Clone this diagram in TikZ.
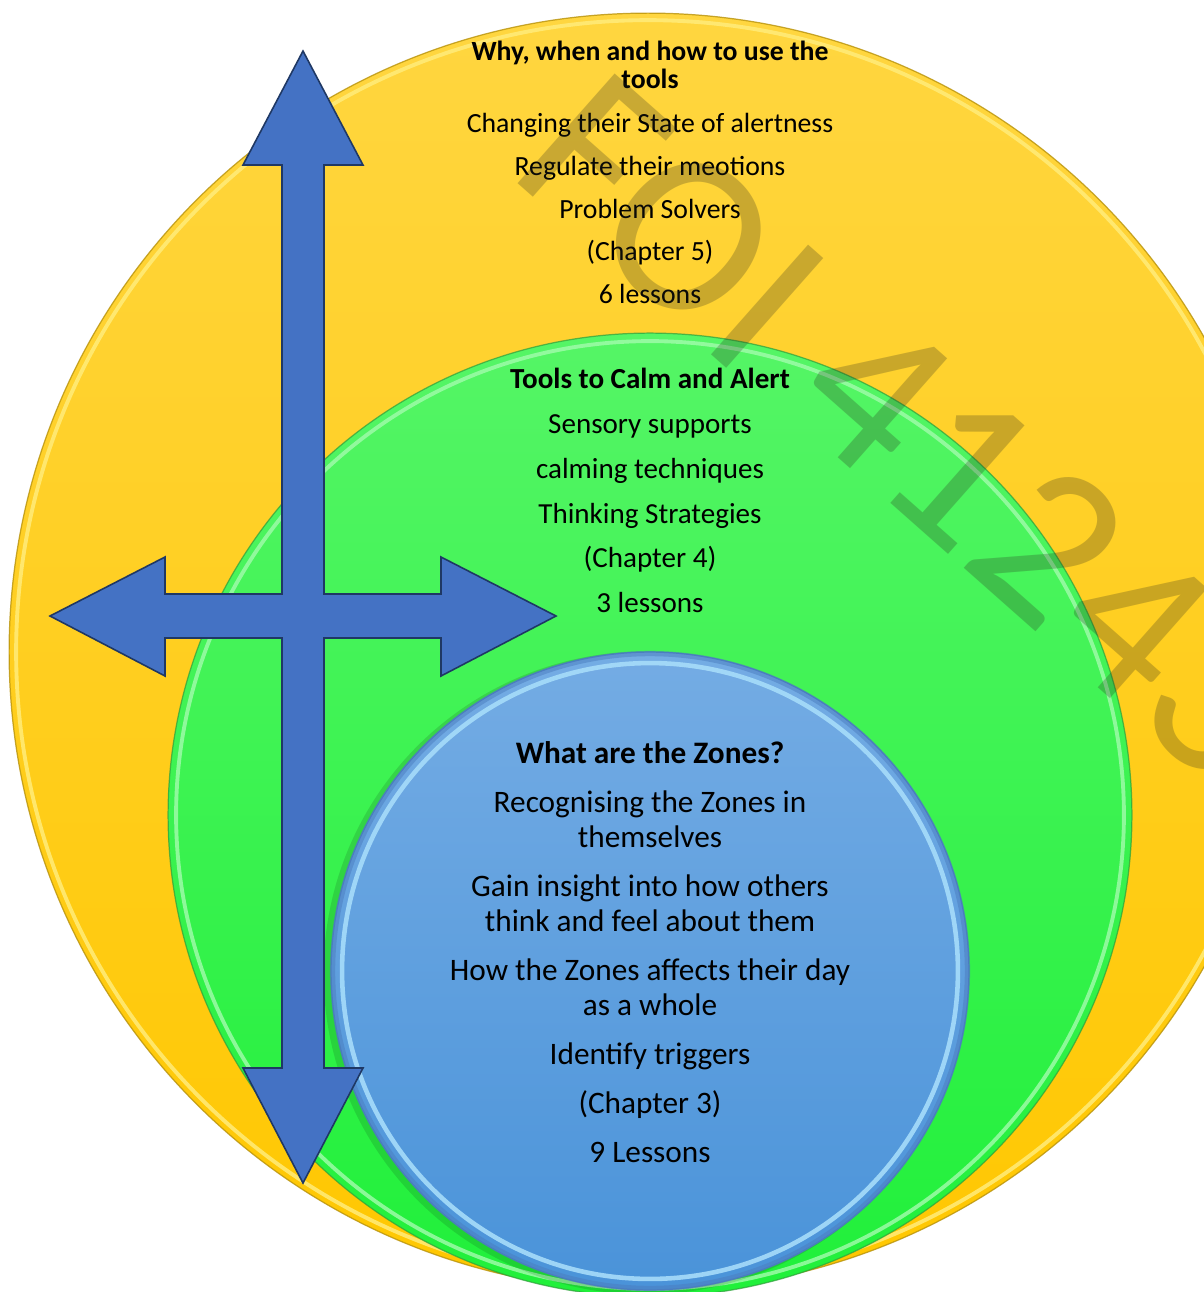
\documentclass[tikz,border=0pt]{standalone}
\usepackage{fontspec}
\setmainfont{Carlito}
\definecolor{yTop}{HTML}{FFD640}
\definecolor{yBot}{HTML}{FFC700}
\definecolor{yEdge}{HTML}{B8920A}
\definecolor{yRim}{HTML}{FFEC7A}
\definecolor{gTop}{HTML}{55F566}
\definecolor{gBot}{HTML}{20F03A}
\definecolor{gEdge}{HTML}{2E9E3A}
\definecolor{gRim}{HTML}{9DFBA8}
\definecolor{bTop}{HTML}{74ACE4}
\definecolor{bBot}{HTML}{4A93D9}
\definecolor{bEdge}{HTML}{4B7DBF}
\definecolor{bRim}{HTML}{A6DCFA}
\definecolor{arrowBlue}{HTML}{4472C4}
\definecolor{arrowEdge}{HTML}{1F3864}
\definecolor{wmColor}{HTML}{28281E}
\begin{document}
\begin{tikzpicture}[x=0.02cm,y=-0.02cm,
  ttop/.style={font=\fontsize{15.8}{16}\selectfont, anchor=base, inner sep=0pt, text=black},
  tgreen/.style={font=\fontsize{16.55}{17}\selectfont, anchor=base, inner sep=0pt, text=black},
  tblue/.style={font=\fontsize{17.8}{18}\selectfont, anchor=base, inner sep=0pt, text=black},
  wm/.style={font=\fontsize{130}{130}\selectfont, rotate=-41.5, text=wmColor, text opacity=0.25, inner sep=0pt, anchor=center},
  arrowshape/.style={fill=arrowBlue, draw=arrowEdge, line width=0.9pt, line join=miter}
]
\useasboundingbox (0,0) rectangle (1204,1292);
\clip (0,0) rectangle (1204,1292);

% yellow circle
\shade[top color=yTop, bottom color=yBot] (648,652) circle[radius=12.78cm];
\draw[yRim, line width=2.2pt, opacity=0.85] (648,652) circle[radius=12.64cm];
\draw[yEdge, line width=0.7pt, opacity=0.8] (648,652) circle[radius=12.78cm];

% green circle
\shade[top color=gTop, bottom color=gBot] (650,815) circle[radius=9.64cm];
\draw[gRim, line width=2.2pt, opacity=0.85] (650,815) circle[radius=9.48cm];
\draw[gEdge, line width=0.7pt, opacity=0.7] (650,815) circle[radius=9.64cm];

% blue circle
\fill[black, opacity=0.12] (645,973) circle[radius=6.43cm];
\shade[top color=bTop, bottom color=bBot] (650,971) circle[radius=6.38cm];
\draw[bEdge, line width=3pt, opacity=0.5] (650,971) circle[radius=6.35cm];
\draw[bRim, line width=2.6pt, opacity=0.9] (650,971) circle[radius=6.16cm];
\draw[bEdge, line width=0.7pt] (650,971) circle[radius=6.38cm];

% top (yellow) texts
\node[ttop, font=\fontsize{15.8}{16}\selectfont\bfseries] (y1) at (650,60) {Why, when and how to use the};
\node[ttop, font=\fontsize{15.8}{16}\selectfont\bfseries] (y2) at (650,88) {tools};
\node[ttop] (y3) at (650,132) {Changing their State of alertness};
\node[ttop] (y4) at (650,175) {Regulate their meotions};
\node[ttop] (y5) at (650,218) {Problem Solvers};
\node[ttop] (y6) at (650,260) {(Chapter 5)};
\node[ttop] (y7) at (650,303) {6 lessons};

% green texts
\node[tgreen, font=\fontsize{16.55}{17}\selectfont\bfseries] (g1) at (650,388) {Tools to Calm and Alert};
\node[tgreen] (g2) at (650,433) {Sensory supports};
\node[tgreen] (g3) at (650,478) {calming techniques};
\node[tgreen] (g4) at (650,523) {Thinking Strategies};
\node[tgreen] (g5) at (650,567) {(Chapter 4)};
\node[tgreen] (g6) at (650,612) {3 lessons};

% blue texts
\node[tblue, font=\fontsize{17.8}{18}\selectfont\bfseries] (b1) at (650,763) {What are the Zones?};
\node[tblue] (b2) at (650,812) {Recognising the Zones in};
\node[tblue] (b3) at (650,847) {themselves};
\node[tblue] (b4) at (650,896) {Gain insight into how others};
\node[tblue] (b5) at (650,931) {think and feel about them};
\node[tblue] (b6) at (650,980) {How the Zones affects their day};
\node[tblue] (b7) at (650,1015) {as a whole};
\node[tblue] (b8) at (650,1064) {Identify triggers};
\node[tblue] (b9) at (650,1113) {(Chapter 3)};
\node[tblue] (b10) at (650,1162) {9 Lessons};

% quad arrow
\draw[arrowshape] (303,51) -- (363,165) -- (324,165) -- (324,594) -- (441,594) -- (441,557)
  -- (556,616) -- (441,676) -- (441,638) -- (324,638) -- (324,1068) -- (363,1068)
  -- (303,1183) -- (243,1068) -- (282,1068) -- (282,638) -- (165,638) -- (165,676)
  -- (50,616) -- (165,557) -- (165,594) -- (282,594) -- (282,165) -- (243,165) -- cycle;

% watermark
\node[wm] (wmA) at (672,222) {FOI};
\node[wm] (wmB) at (1048,545) {41243};
\end{tikzpicture}
\end{document}
